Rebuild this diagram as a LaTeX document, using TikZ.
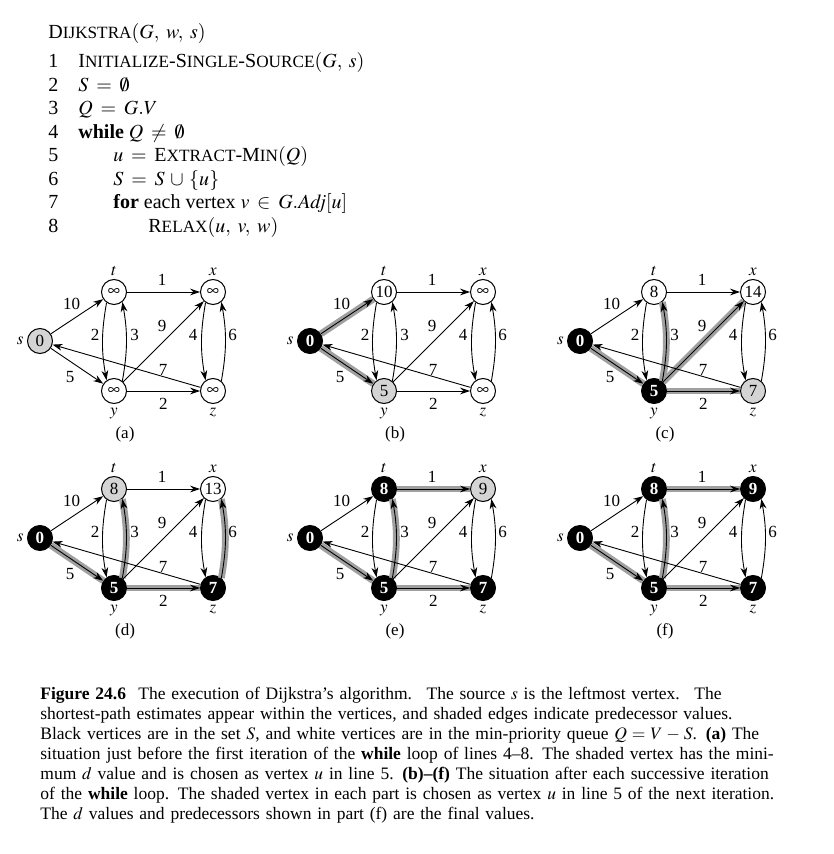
\documentclass[tikz,border=0pt]{standalone}
\usepackage{mathptmx}
\usepackage{fontspec}
\setmainfont{Liberation Serif}
\usetikzlibrary{arrows.meta,positioning}
\definecolor{qgray}{RGB}{212,212,212}
\definecolor{predgray}{RGB}{160,160,160}
\newcommand{\smc}[1]{{\fontsize{8.6}{8.6}\selectfont #1}}
\newcommand{\gfont}{\fontsize{8.5}{10}\selectfont}
\newcommand{\codefont}{\fontsize{10}{12}\selectfont
  \thinmuskip=6mu\relax \thickmuskip=7mu plus 2mu\relax \medmuskip=5mu plus 2mu\relax}
\newcommand{\captfont}{\fontsize{8.75}{10}\selectfont
  \thickmuskip=5mu\relax \medmuskip=4mu\relax}
\newcommand{\capline}[1]{\makebox[\linewidth][s]{#1}}
\tikzset{
  vtx/.style={circle, draw, line width=0.5pt, minimum size=12.5pt, inner sep=0pt, fill=white, font=\gfont},
  vwht/.style={},
  vgray/.style={fill=qgray},
  vblk/.style={fill=black, text=white, font=\gfont\bfseries},
  dedge/.style={line width=0.45pt, -{Stealth[length=5pt,width=3.4pt]}},
  pred/.style={line width=3.4pt, draw=predgray},
  wt/.style={inner sep=0pt, font=\gfont},
  code/.style={anchor=base west, inner sep=0pt, font=\codefont},
  capt/.style={anchor=base west, inner sep=0pt, text width=324pt, align=left, font=\captfont},
}
% one panel: #1 name, #2 shift, #3-#7 vertices s,t,x,y,z, #8 shaded edges
\newcommand{\dpanel}[8]{%
  \begin{scope}[shift={#2}]
    % vertices
    \node[vtx] (#1-s) at (40,341) #3;
    \node[vtx] (#1-t) at (114,292) #4;
    \node[vtx] (#1-x) at (213,292) #5;
    \node[vtx] (#1-y) at (114,391) #6;
    \node[vtx] (#1-z) at (213,391) #7;
    % predecessor edges
    \if\relax\detokenize{#8}\relax\else
      \foreach \src/\dst/\bend in {#8}
        \draw[pred] (#1-\src) to[bend right=\bend] (#1-\dst);
    \fi
    % edges
    \draw[dedge] (#1-s) -- (#1-t);
    \draw[dedge] (#1-s) -- (#1-y);
    \draw[dedge] (#1-t) -- (#1-x);
    \draw[dedge] (#1-y) -- (#1-z);
    \draw[dedge] (#1-y) -- (#1-x);
    \draw[dedge] (#1-z) -- (#1-s);
    \draw[dedge] (#1-t.-125) to[bend right=10] (#1-y.125);
    \draw[dedge] (#1-y.50) to[bend right=10] (#1-t.-50);
    \draw[dedge] (#1-x.-125) to[bend right=10] (#1-z.125);
    \draw[dedge] (#1-z.50) to[bend right=10] (#1-x.-50);
    % weights
    \node[wt] (#1-wst) at (71.7,304.3) {10};
    \node[wt] (#1-wsy) at (70,377.3) {5};
    \node[wt] (#1-wtx) at (162,280) {1};
    \node[wt] (#1-wty) at (95,335) {2};
    \node[wt] (#1-wyt) at (134.5,335) {3};
    \node[wt] (#1-wyx) at (162,326) {9};
    \node[wt] (#1-wxz) at (193,335) {4};
    \node[wt] (#1-wzx) at (232.5,335) {6};
    \node[wt] (#1-wzs) at (163,369.5) {7};
    \node[wt] (#1-wyz) at (163.3,404) {2};
    % vertex names
    \node[wt, left=1.5pt of #1-s] (#1-ls) {$s$};
    \node[wt, above=1.5pt of #1-t] (#1-lt) {$t$};
    \node[wt, above=1.5pt of #1-x] (#1-lx) {$x$};
    \node[wt, below=1.8pt of #1-y] (#1-ly) {$y$};
    \node[wt, below=1.8pt of #1-z] (#1-lz) {$z$};
    \node[wt] (#1-cap) at (125,434) {(#1)};
  \end{scope}}

\begin{document}
\begin{tikzpicture}[x=0.5pt, y=-0.5pt]
  \useasboundingbox (0,0) rectangle (833,854);
  % Pseudocode
  \node[code] (title) at (48,38.5) {D\smc{IJKSTRA}$(G,w,s)$};
  \foreach \i in {1,...,8}
    \node[code] (n\i) at (48,{44.5+23.5*\i}) {\i};
  \node[code] (c1) at (78,68) {I\smc{NITIALIZE}-S\smc{INGLE}-S\smc{OURCE}$(G,s)$};
  \node[code] (c2) at (78,91.5) {$S=\emptyset$};
  \node[code] (c3) at (78,115) {$Q=G.V$};
  \node[code] (c4) at (78,138.5) {\textbf{while} $Q\neq\emptyset$};
  \node[code] (c5) at (113,162) {$u={}$E\smc{XTRACT}-M\smc{IN}$(Q)$};
  \node[code] (c6) at (113,185.5) {$S=S\cup\{u\}$};
  \node[code] (c7) at (113,209) {\textbf{for} each vertex $v\in G.\mathit{Adj}[u]$};
  \node[code] (c8) at (148,232.5) {R\smc{ELAX}$(u,v,w)$};
  % Panels (a)-(f)
  \dpanel{a}{(0,0)}{[vgray]{0}}{[vwht]{$\infty$}}{[vwht]{$\infty$}}{[vwht]{$\infty$}}{[vwht]{$\infty$}}{}
  \dpanel{b}{(270,0)}{[vblk]{0}}{[vwht]{10}}{[vwht]{$\infty$}}{[vgray]{5}}{[vwht]{$\infty$}}{s/t/0, s/y/0}
  \dpanel{c}{(540,0)}{[vblk]{0}}{[vwht]{8}}{[vwht]{14}}{[vblk]{5}}{[vgray]{7}}{s/y/0, y.50/t.-50/10, y/x/0, y/z/0}
  \dpanel{d}{(0,197)}{[vblk]{0}}{[vgray]{8}}{[vwht]{13}}{[vblk]{5}}{[vblk]{7}}{s/y/0, y.50/t.-50/10, y/z/0, z.50/x.-50/10}
  \dpanel{e}{(270,197)}{[vblk]{0}}{[vblk]{8}}{[vgray]{9}}{[vblk]{5}}{[vblk]{7}}{s/y/0, y.50/t.-50/10, t/x/0, y/z/0}
  \dpanel{f}{(540,197)}{[vblk]{0}}{[vblk]{8}}{[vblk]{9}}{[vblk]{5}}{[vblk]{7}}{s/y/0, y.50/t.-50/10, t/x/0, y/z/0}
  % Caption
  \node[capt] (caption) at (40,699.3) {%
    \capline{\textbf{Figure 24.6}\hspace{0.7em}The execution of Dijkstra's algorithm. \ The source $s$ is the leftmost vertex. \ The}\\
    \capline{shortest-path estimates appear within the vertices, and shaded edges indicate predecessor values.}\\
    \capline{Black vertices are in the set $S$, and white vertices are in the min-priority queue $Q = V - S$. \textbf{(a)}~The}\\
    \capline{situation just before the first iteration of the \textbf{while} loop of lines 4--8. The shaded vertex has the mini-}\\
    \capline{mum $d$ value and is chosen as vertex $u$ in line 5. \textbf{(b)--(f)} The situation after each successive iteration}\\
    \capline{of the \textbf{while} loop. The shaded vertex in each part is chosen as vertex $u$ in line 5 of the next iteration.}\\
    The $d$ values and predecessors shown in part (f) are the final values.};
\end{tikzpicture}
\end{document}
